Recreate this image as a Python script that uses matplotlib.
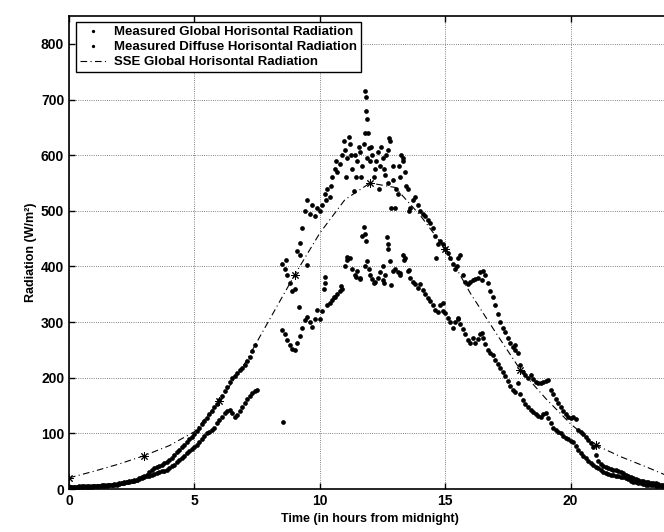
import numpy as np
import matplotlib
matplotlib.use("Agg")
import matplotlib.pyplot as plt

plt.rcParams['font.family'] = ['Liberation Sans', 'DejaVu Sans']
plt.rcParams['font.weight'] = 'bold'
plt.rcParams['axes.labelweight'] = 'bold'
plt.rcParams['font.size'] = 9

nan = np.nan

# measured global horizontal radiation, one row per hour, 6-minute samples (W/m2)
global_rows = [
    [4, 4, 4, 4, 5, 5, 5, 5, 5, 6],
    [6, 6, 6, 7, 7, 7, 8, 8, 9, 9],
    [10, 11, 12, 13, 14, 15, 16, 17, 19, 21],
    [23, 26, 30, 34, 37, 40, 42, 44, 46, 49],
    [52, 56, 61, 66, 71, 76, 80, 85, 89, 94],
    [99, 104, 110, 116, 122, 128, 134, 140, 147, 153],
    [160, 168, 177, 184, 192, 199, 203, 208, 213, 218],
    [222, 230, 238, 248, 258, nan, nan, nan, nan, nan],
    [nan, nan, nan, nan, nan, 405, 395, 385, 370, 355],
    [360, 428, 442, 470, 500, 520, 495, 510, 490, 505],
    [500, 510, 530, 540, 525, 560, 575, 570, 585, 600],
    [610, 595, 620, 575, 600, 590, 605, 580, 640, 595],
    [590, 600, 575, 605, 580, 595, 565, 610, 625, 555],
    [505, 530, 560, 595, 570, 540, 505, 520, 525, 510],
    [500, 495, 490, 484, 478, 470, 455, 440, 445, 440],
    [432, 425, 415, 405, 395, 415, 420, 385, 372, 368],
    [372, 375, 378, 380, 390, 392, 385, 370, 355, 345],
    [330, 315, 300, 290, 282, 272, 262, 255, 258, 245],
    [222, 210, 205, 200, 205, 198, 192, 190, 190, 192],
    [194, 196, 178, 170, 162, 155, 148, 140, 135, 130],
    [128, 130, 125, 106, 102, 98, 94, 88, 82, 76],
    [62, 50, 45, 42, 40, 38, 36, 35, 34, 33],
    [31, 28, 26, 24, 22, 20, 18, 16, 15, 14],
    [13, 12, 11, 10, 10, 9, 8, 8, 7, 7],
    [6],
]

# measured diffuse horizontal radiation (W/m2)
diffuse_rows = [
    [3, 3, 3, 3, 3, 4, 4, 4, 4, 4],
    [5, 5, 5, 6, 6, 6, 7, 7, 8, 8],
    [9, 10, 11, 12, 13, 14, 15, 16, 18, 20],
    [22, 23, 24, 25, 27, 29, 31, 32, 33, 35],
    [38, 41, 44, 48, 52, 56, 60, 64, 68, 72],
    [76, 80, 85, 90, 95, 100, 103, 106, 110, 118],
    [124, 130, 136, 140, 142, 136, 130, 133, 140, 148],
    [155, 162, 168, 172, 176, 178, nan, nan, nan, nan],
    [nan, nan, nan, nan, nan, 286, 278, 268, 258, 252],
    [250, 262, 275, 290, 304, 310, 300, 291, 305, 322],
    [305, 320, 370, 330, 335, 340, 345, 350, 355, 360],
    [400, 412, 415, 395, 385, 392, 380, 455, 400, 410],
    [385, 378, 372, 380, 390, 375, 385, 440, 410, 392],
    [395, 390, 388, 420, 415, 392, 380, 372, 368, 362],
    [368, 358, 350, 344, 338, 330, 322, 318, 330, 320],
    [316, 308, 300, 290, 300, 305, 296, 288, 278, 268],
    [262, 272, 262, 270, 278, 272, 260, 250, 245, 240],
    [232, 225, 218, 210, 204, 195, 185, 178, 175, 190],
    [170, 160, 152, 148, 142, 138, 135, 132, 130, 134],
    [136, 128, 118, 110, 106, 103, 100, 96, 92, 89],
    [86, 84, 78, 70, 65, 60, 55, 50, 47, 43],
    [40, 37, 34, 31, 29, 27, 26, 25, 24, 23],
    [22, 21, 20, 18, 15, 13, 12, 11, 10, 9],
    [8, 8, 7, 7, 6, 6, 6, 5, 5, 5],
    [5],
]

# extra scattered samples around midday (cloud passages)
global_extra_t = [8.55, 8.65, 9.17, 9.22, 9.5, 10.25, 10.45, 10.65, 10.95, 11.05,
                  11.15, 11.25, 11.35, 11.45, 11.55, 11.65, 11.75, 11.82, 11.84, 11.86,
                  11.88, 11.92, 11.95, 12.05, 12.15, 12.25, 12.35, 12.45, 12.55, 12.65,
                  12.72, 12.76, 12.82, 12.9, 13.05, 13.15, 13.25, 13.32, 13.45, 13.55,
                  14.65, 15.45, 16.45, 17.8]
global_extra_w = [120, 412, 327, 420, 403, 520, 545, 590, 625, 560,
                  633, 600, 535, 560, 615, 560, 620, 715, 705, 680,
                  665, 640, 612, 615, 560, 590, 540, 615, 575, 600,
                  550, 630, 505, 580, 540, 580, 600, 590, 545, 500,
                  415, 400, 376, 250]
diffuse_extra_t = [10.15, 10.22, 10.55, 10.85, 11.1, 11.45, 11.6, 11.78, 11.8, 11.83,
                   11.95, 12.15, 12.5, 12.55, 12.68, 12.72, 12.85, 13.2, 13.35, 13.55,
                   14.9, 15.5, 16.45]
diffuse_extra_w = [360, 381, 345, 365, 417, 381, 378, 471, 458, 445,
                   395, 370, 400, 370, 453, 432, 367, 385, 412, 394,
                   334, 307, 280]

# SSE estimate, hourly (W/m2)
sse_hours = list(range(25))
sse_rad = [20, 32, 45, 60, 78, 103, 158, 225, 305, 385, 460, 520, 550,
           542, 492, 432, 352, 282, 214, 163, 117, 79, 58, 40, 21]

global_rad = np.array([v for row in global_rows for v in row], dtype=float)
diffuse_rad = np.array([v for row in diffuse_rows for v in row], dtype=float)
hours = np.arange(len(global_rad)) / 10.0

fig = plt.figure(figsize=(6.64, 5.32), dpi=100)
ax = fig.add_axes([0.1039, 0.0808, 0.9066, 0.889])

dot = dict(linestyle='none', marker='o', ms=3.4, mew=0, color='k')
ax.plot(hours, global_rad, label='Measured Global Horisontal Radiation', **dot)
ax.plot(hours, diffuse_rad, label='Measured Diffuse Horisontal Radiation', **dot)
ax.plot(global_extra_t, global_extra_w, **dot)
ax.plot(diffuse_extra_t, diffuse_extra_w, **dot)
ax.plot(sse_hours, sse_rad, color='k', lw=0.8, linestyle=(0, (6, 3, 1, 3)),
        label='SSE Global Horisontal Radiation')
ax.plot(sse_hours[::3], sse_rad[::3], linestyle='none', marker=(8, 2, 0),
        ms=6, mew=0.7, color='k')

ax.set_xlim(0, 24)
ax.set_ylim(0, 850)
ax.set_xticks([0, 5, 10, 15, 20])
ax.set_yticks(range(0, 801, 100))
ax.grid(True, linestyle=':', color='0.35', lw=0.6)
ax.tick_params(direction='in', top=True, right=True, length=4, width=1, labelsize=10)
for s in ax.spines.values():
    s.set_linewidth(1.2)

ax.set_xlabel('Time (in hours from midnight)', fontsize=9)
ax.set_ylabel('Radiation (W/m²)', fontsize=9, labelpad=3)

leg = ax.legend(loc='upper left', bbox_to_anchor=(0.0116, 0.987), borderaxespad=0,
                fancybox=False, edgecolor='k', framealpha=1, handlelength=2.0,
                handletextpad=0.6, borderpad=0.3, labelspacing=0.2, markerscale=0.7,
                fontsize=9.5)
leg.get_frame().set_linewidth(1.0)

fig.savefig('out.png', dpi=100)
